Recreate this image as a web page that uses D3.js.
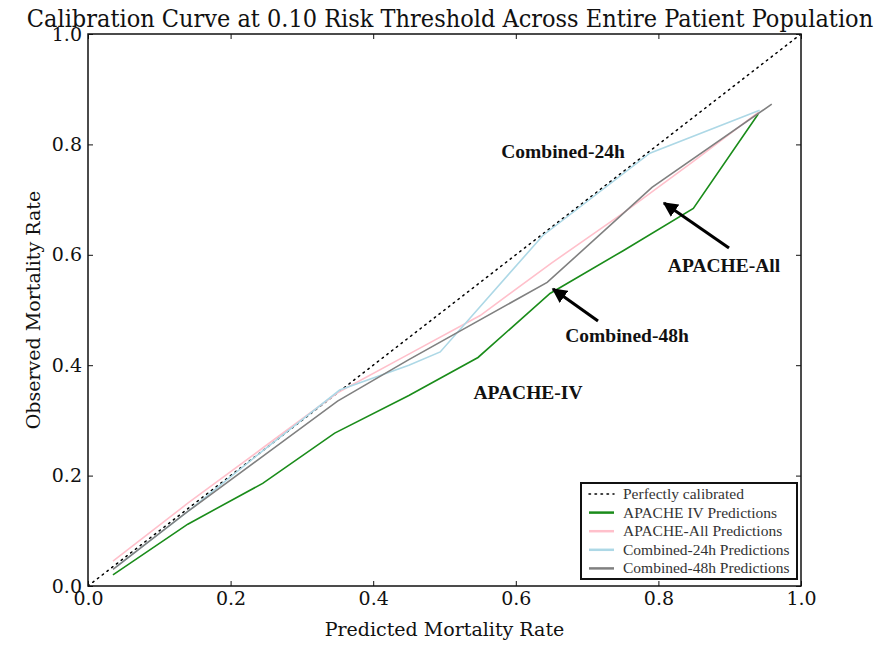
<!DOCTYPE html>
<html>
<head>
<meta charset="utf-8">
<script src="https://cdn.jsdelivr.net/npm/d3@7"></script>
<style>
  body { margin: 0; background: #fff; }
</style>
</head>
<body>
<div id="chartDiv"></div>
<script>
const width = 885;
const height = 645;
var margin = { left: 88, top: 34, right: 84, bottom: 59 }

// tick values for both axes
var tickValues = [0.0, 0.2, 0.4, 0.6, 0.8, 1.0]

// APACHE IV
var apacheIvX = [0.035, 0.14, 0.245, 0.346, 0.45, 0.547, 0.648, 0.75, 0.849, 0.94]
var apacheIvY = [0.02, 0.112, 0.186, 0.277, 0.345, 0.414, 0.53, 0.607, 0.684, 0.855]

// APACHE-All
var apacheAllX = [0.035, 0.14, 0.245, 0.35, 0.45, 0.55, 0.65, 0.75, 0.85, 0.94]
var apacheAllY = [0.045, 0.15, 0.25, 0.35, 0.42, 0.49, 0.585, 0.675, 0.77, 0.858]

// Combined-24h
var comb24X = [0.04, 0.145, 0.245, 0.353, 0.45, 0.494, 0.638, 0.788, 0.942]
var comb24Y = [0.035, 0.14, 0.245, 0.355, 0.4, 0.424, 0.635, 0.784, 0.862]

// Combined-48h
var comb48X = [0.035, 0.14, 0.245, 0.35, 0.45, 0.644, 0.791, 0.959]
var comb48Y = [0.03, 0.135, 0.235, 0.335, 0.41, 0.55, 0.722, 0.873]

var perfectX = [0, 1]
var perfectY = [0, 1]

var legendLabels = ["Perfectly calibrated", "APACHE IV Predictions", "APACHE-All Predictions",
    "Combined-24h Predictions", "Combined-48h Predictions"]

function zipPts(xs, ys) {
    return xs.map((x, i) => [x, ys[i]])
}

var series = [
    { name: legendLabels[0], pts: zipPts(perfectX, perfectY), color: "#000", dash: "1.5,4.5", w: 1.5 },
    { name: legendLabels[1], pts: zipPts(apacheIvX, apacheIvY), color: "#1a8c1a", dash: null, w: 1.6 },
    { name: legendLabels[2], pts: zipPts(apacheAllX, apacheAllY), color: "#ffc0cb", dash: null, w: 1.6 },
    { name: legendLabels[3], pts: zipPts(comb24X, comb24Y), color: "#add8e6", dash: null, w: 1.6 },
    { name: legendLabels[4], pts: zipPts(comb48X, comb48Y), color: "#808080", dash: null, w: 1.6 }
]

var svg = d3.select("#chartDiv").append("svg")
    .attr("width", width)
    .attr("height", height)

var plotW = width - margin.left - margin.right
var plotH = height - margin.top - margin.bottom

var x = d3.scaleLinear().domain([0, 1]).range([margin.left, margin.left + plotW])
var y = d3.scaleLinear().domain([0, 1]).range([margin.top + plotH, margin.top])

var serif = "'DejaVu Serif', serif"
var times = "'Liberation Serif', 'Times New Roman', serif"

// title
svg.append("text")
    .attr("x", 450)
    .attr("y", 27)
    .attr("text-anchor", "middle")
    .style("font-family", "'DejaVu Serif Condensed', 'DejaVu Serif', serif")
    .style("font-stretch", "condensed")
    .style("font-size", "25px")
    .attr("fill", "#111")
    .text("Calibration Curve at 0.10 Risk Threshold Across Entire Patient Population")

// lines
var line = d3.line().x(d => x(d[0])).y(d => y(d[1]))

svg.append("clipPath").attr("id", "plotClip")
    .append("rect")
    .attr("x", margin.left).attr("y", margin.top)
    .attr("width", plotW).attr("height", plotH)

var plotG = svg.append("g").attr("clip-path", "url(#plotClip)")

series.forEach(s => {
    plotG.append("path")
        .datum(s.pts)
        .attr("d", line)
        .style("fill", "none")
        .style("stroke", s.color)
        .style("stroke-width", s.w)
        .style("stroke-dasharray", s.dash)
        .style("stroke-linecap", s.dash ? "round" : "butt")
})

// axes with inward ticks on all sides
var axisFont = function (g) {
    g.selectAll("text").style("font-family", serif).style("font-size", "19px").attr("fill", "#111")
    g.select(".domain").remove()
    g.selectAll("line").attr("stroke", "#111").attr("stroke-width", 1)
}

svg.append("g")
    .attr("transform", "translate(0," + y(0) + ")")
    .call(d3.axisBottom(x).tickValues(tickValues).tickFormat(d3.format(".1f")).tickSizeInner(-5).tickPadding(6))
    .call(axisFont)

svg.append("g")
    .attr("transform", "translate(" + x(0) + ",0)")
    .call(d3.axisLeft(y).tickValues(tickValues).tickFormat(d3.format(".1f")).tickSizeInner(-5).tickPadding(6))
    .call(axisFont)

svg.append("g")
    .attr("transform", "translate(0," + y(1) + ")")
    .call(d3.axisTop(x).tickValues(tickValues).tickFormat("").tickSizeInner(-5))
    .call(axisFont)

svg.append("g")
    .attr("transform", "translate(" + x(1) + ",0)")
    .call(d3.axisRight(y).tickValues(tickValues).tickFormat("").tickSizeInner(-5))
    .call(axisFont)

svg.append("rect")
    .attr("x", x(0)).attr("y", y(1))
    .attr("width", x(1) - x(0)).attr("height", y(0) - y(1))
    .style("fill", "none")
    .style("stroke", "#111")
    .style("stroke-width", 1.5)

// axis labels
svg.append("text")
    .attr("x", (x(0) + x(1)) / 2)
    .attr("y", 636)
    .attr("text-anchor", "middle")
    .style("font-family", serif)
    .style("font-size", "19px")
    .attr("fill", "#111")
    .text("Predicted Mortality Rate")

svg.append("text")
    .attr("transform", "translate(40," + ((y(0) + y(1)) / 2) + ") rotate(-90)")
    .attr("text-anchor", "middle")
    .style("font-family", serif)
    .style("font-size", "19px")
    .attr("fill", "#111")
    .text("Observed Mortality Rate")

// annotations
var defs = svg.append("defs")
defs.append("marker")
    .attr("id", "arrowHead")
    .attr("viewBox", "0 0 10 10")
    .attr("refX", 9).attr("refY", 5)
    .attr("markerWidth", 5).attr("markerHeight", 5)
    .attr("markerUnits", "strokeWidth")
    .attr("orient", "auto")
    .append("path")
    .attr("d", "M0,0 L10,5 L0,10 z")
    .attr("fill", "#000")

function annotate(label, tx, ty, ax, ay) {
    svg.append("text")
        .attr("x", tx)
        .attr("y", ty)
        .attr("text-anchor", "middle")
        .style("font-family", times)
        .style("font-weight", "bold")
        .style("font-size", "19.5px")
        .attr("fill", "#111")
        .text(label)
    if (ax !== undefined) {
        svg.append("line")
            .attr("x1", ax[0]).attr("y1", ax[1])
            .attr("x2", ay[0]).attr("y2", ay[1])
            .attr("stroke", "#000")
            .attr("stroke-width", 3)
            .attr("marker-end", "url(#arrowHead)")
    }
}

annotate("Combined-24h", 563, 158)
annotate("APACHE-All", 724, 272, [729, 248], [664, 203])
annotate("Combined-48h", 627, 342, [598, 321], [553, 289])
annotate("APACHE-IV", 528, 399)

// legend
var legX = 581, legY = 483
var legend = svg.append("g")
legend.append("rect")
    .attr("x", legX).attr("y", legY)
    .attr("width", 216).attr("height", 96)
    .style("fill", "#fff")
    .style("stroke", "#111")
    .style("stroke-width", 2)

series.forEach((s, i) => {
    var ly = legY + 11 + i * 18.6
    legend.append("line")
        .attr("x1", legX + 8).attr("x2", legX + 33)
        .attr("y1", ly).attr("y2", ly)
        .style("stroke", s.color)
        .style("stroke-width", s.dash ? 1.5 : 2.5)
        .style("stroke-dasharray", s.dash)
        .style("stroke-linecap", s.dash ? "round" : "butt")
    legend.append("text")
        .attr("x", legX + 42)
        .attr("y", ly + 5)
        .style("font-family", times)
        .style("font-size", "15.5px")
        .attr("fill", "#333")
        .text(s.name)
})
</script>
</body>
</html>
